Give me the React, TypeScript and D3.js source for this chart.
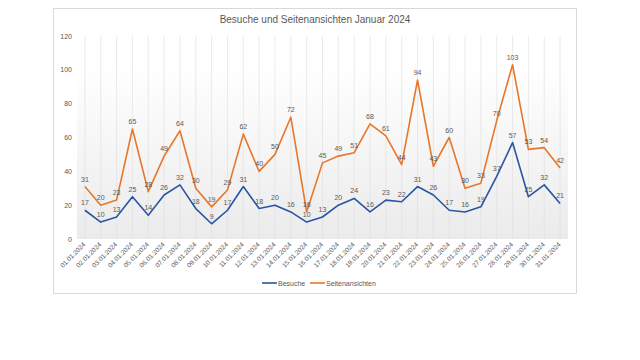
import React from "react";
import * as d3 from "d3";

const days = d3.range(1, 32).map(d => `${String(d).padStart(2, "0")}.01.2024`);
const besuche = [17, 10, 13, 25, 14, 26, 32, 18, 9, 17, 31, 18, 20, 16, 10, 13, 20, 24, 16, 23, 22, 31, 26, 17, 16, 19, 37, 57, 25, 32, 21];
const seitenansichten = [31, 20, 23, 65, 28, 49, 64, 30, 19, 29, 62, 40, 50, 72, 16, 45, 49, 51, 68, 61, 44, 94, 43, 60, 30, 33, 70, 103, 53, 54, 42];
const yTicks = [0, 20, 40, 60, 80, 100, 120];

const series = [
  { name: "Besuche", values: besuche, color: "#2a54a4" },
  { name: "Seitenansichten", values: seitenansichten, color: "#e8762b" },
];

const font = "'Liberation Sans', Arial, sans-serif";
const textColor = "#595959";

export default function App() {
  const width = 640, height = 360;
  const plot = { left: 77, right: 568, top: 36, bottom: 239 };

  const x = d3.scalePoint<string>()
    .domain(days)
    .range([plot.left, plot.right])
    .padding(0.5);

  const y = d3.scaleLinear()
    .domain([0, 120])
    .range([plot.bottom, plot.top]);

  const line = (vals: number[]) =>
    d3.line<number>()
      .x((d, i) => x(days[i])!)
      .y(d => y(d))(vals);

  return (
    <svg width={width} height={height} style={{ position: "fixed", left: 0, top: 0, background: "#fff" }}>
      <defs>
        <linearGradient id="plotbg" x1="0" y1="0" x2="0" y2="1">
          <stop offset="0" stopColor="#ffffff" />
          <stop offset="0.15" stopColor="#ffffff" />
          <stop offset="1" stopColor="#ebebeb" />
        </linearGradient>
      </defs>
      <rect x={53.5} y={8.5} width={523} height={285} fill="#fff" stroke="#d9d9d9" />
      <rect x={plot.left} y={plot.top} width={plot.right - plot.left} height={plot.bottom - plot.top} fill="url(#plotbg)" />

      <text x={315} y={23} textAnchor="middle" fontFamily={font} fontSize={10} fill={textColor}>
        Besuche und Seitenansichten Januar 2024
      </text>

      {days.map(d => (
        <line key={d} x1={x(d)} x2={x(d)} y1={y(120)} y2={plot.bottom} stroke="#dedede" strokeWidth={0.6} />
      ))}

      {yTicks.map(t => (
        <text key={t} x={72} y={y(t) + 2.5} textAnchor="end" fontFamily={font} fontSize={7} fill={textColor}>
          {t}
        </text>
      ))}

      {days.map(d => (
        <text key={d} transform={`translate(${x(d)! + 1},${plot.bottom + 6}) rotate(-45)`} textAnchor="end"
          fontFamily={font} fontSize={6.5} fill={textColor}>
          {d}
        </text>
      ))}

      {series.map(s => (
        <path key={s.name} d={line(s.values) || ""} fill="none" stroke={s.color} strokeWidth={1.6} strokeLinejoin="round" />
      ))}

      {series.map(s => s.values.map((v, i) => (
        <text key={s.name + i} x={x(days[i])} y={y(v) - 5} textAnchor="middle" fontFamily={font} fontSize={7} fill={textColor}>
          {v}
        </text>
      )))}

      <g fontFamily={font} fontSize={7} fill={textColor}>
        <line x1={262} x2={277} y1={283} y2={283} stroke={series[0].color} strokeWidth={1.6} />
        <text x={278} y={285.5}>Besuche</text>
        <line x1={310} x2={325} y1={283} y2={283} stroke={series[1].color} strokeWidth={1.6} />
        <text x={326} y={285.5}>Seitenansichten</text>
      </g>
    </svg>
  );
}
